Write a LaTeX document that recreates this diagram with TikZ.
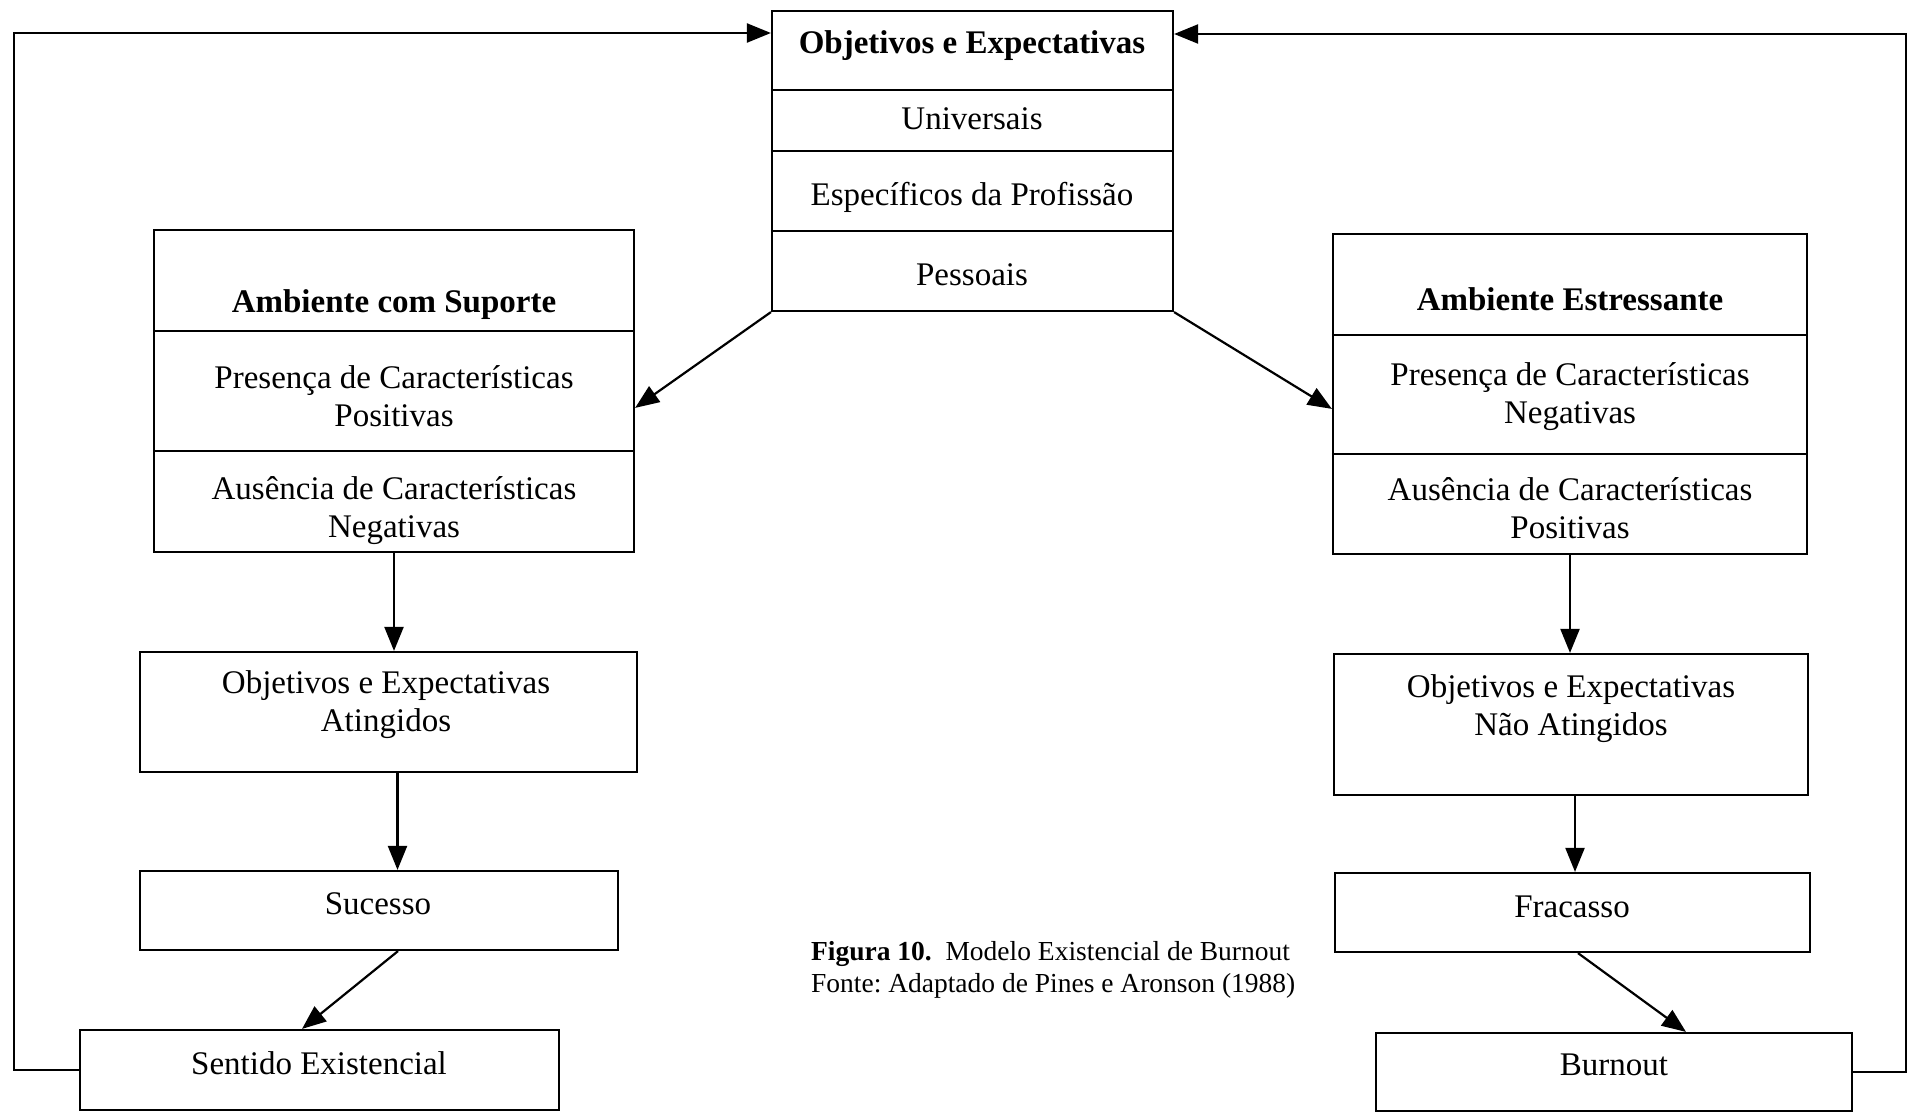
\documentclass[tikz,border=0pt]{standalone}
\usepackage{fontspec}
\setmainfont{Liberation Serif}
\usetikzlibrary{arrows.meta,calc}
\frenchspacing

\begin{document}
\begin{tikzpicture}[x=0.5pt,y=-0.5pt,
  every path/.style={line width=1.1pt},
  box/.style={draw, line width=1.1pt, rectangle, inner sep=0pt},
  lbl/.style={inner sep=0pt, align=center, font=\fontsize{16.5}{19}\selectfont},
  captext/.style={inner sep=0pt, align=left, anchor=west, font=\fontsize{13.75}{16}\selectfont},
  arr/.style={-{Triangle[length=12pt,width=9.5pt]}, line width=1.1pt}]

\useasboundingbox (0,0) rectangle (1910,1113);

% --- boxes -------------------------------------------------------------
\node[box, minimum width=200.5pt, minimum height=150pt] (T) at (972.5,161) {};
\node[box, minimum width=240pt,   minimum height=161pt] (A) at (394,391) {};
\node[box, minimum width=237pt,   minimum height=160pt] (B) at (1570,394) {};
\node[box, minimum width=248.5pt, minimum height=60pt]  (C) at (388.5,712) {};
\node[box, minimum width=237pt,   minimum height=70.5pt] (D) at (1571,724.5) {};
\node[box, minimum width=239pt,   minimum height=39.5pt] (E) at (379,910.5) {};
\node[box, minimum width=237.5pt, minimum height=39.5pt] (F) at (1572.5,912.5) {};
\node[box, minimum width=239.5pt, minimum height=40pt]  (G) at (319.5,1070) {};
\node[box, minimum width=238pt,   minimum height=39pt]  (H) at (1614,1072) {};

% row dividers inside the compartment boxes
\draw (T.west |- 0,90)  -- (T.east |- 0,90);
\draw (T.west |- 0,151) -- (T.east |- 0,151);
\draw (T.west |- 0,231) -- (T.east |- 0,231);
\draw (A.west |- 0,331) -- (A.east |- 0,331);
\draw (A.west |- 0,451) -- (A.east |- 0,451);
\draw (B.west |- 0,335) -- (B.east |- 0,335);
\draw (B.west |- 0,454) -- (B.east |- 0,454);

% --- texts -------------------------------------------------------------
\node[lbl] (t0) at (972,46)  {\bfseries Objetivos e Expectativas};
\node[lbl] (t1) at (972,119) {Universais};
\node[lbl] (t2) at (972,197) {Específicos da Profissão};
\node[lbl] (t3) at (972,275) {Pessoais};

\node[lbl] (a0) at (394,305) {\bfseries Ambiente com Suporte};
\node[lbl] (a1) at (394,396) {Presença de Características\\Positivas};
\node[lbl] (a2) at (394,511) {Ausência de Características\\Negativas};

\node[lbl] (b0) at (1570,299) {\bfseries Ambiente Estressante};
\node[lbl] (b1) at (1570,397) {Presença de Características\\Negativas};
\node[lbl] (b2) at (1570,508) {Ausência de Características\\Positivas};

\node[lbl] (c0) at (386,705) {Objetivos e Expectativas\\Atingidos};
\node[lbl] (d0) at (1571,709) {Objetivos e Expectativas\\Não Atingidos};
\node[lbl] (e0) at (378,904) {Sucesso};
\node[lbl] (f0) at (1572,907) {Fracasso};
\node[lbl] (g0) at (319,1063) {Sentido Existencial};
\node[lbl] (h0) at (1614,1065) {Burnout};

\node[captext] (caption) at (810,970) {\textbf{Figura 10.}\ \ Modelo Existencial de Burnout\\Fonte: Adaptado de Pines e Aronson (1988)};

% --- connectors --------------------------------------------------------
\draw[arr] (T.south west) -- ($(A.north east)+(0,179)$);
\draw[arr] (T.south east) -- ($(B.north west)+(0,176)$);

\draw[arr] (A.south) -- (A.south |- C.north);
\draw[arr] ([xshift=4.5pt]C.south) -- ([xshift=4.5pt]C.south |- E.north);
\draw[arr] ([xshift=9.5pt]E.south) -- ([xshift=-8.75pt]G.north);

\draw[arr] (B.south) -- (B.south |- D.north);
\draw[arr] ([xshift=2pt]D.south) -- ([xshift=2pt]D.south |- F.north);
\draw[arr] ([xshift=2.75pt]F.south) -- ([xshift=36pt]H.north);

% feedback loops back to the top box
\coordinate (lt) at (14,33);
\coordinate (rt) at (1906,34);
\draw[arr] (G.west) -- (G.west -| lt) -- (lt) -- (lt -| T.west);
\draw[arr] (H.east) -- (H.east -| rt) -- (rt) -- (rt -| T.east);

\end{tikzpicture}
\end{document}
